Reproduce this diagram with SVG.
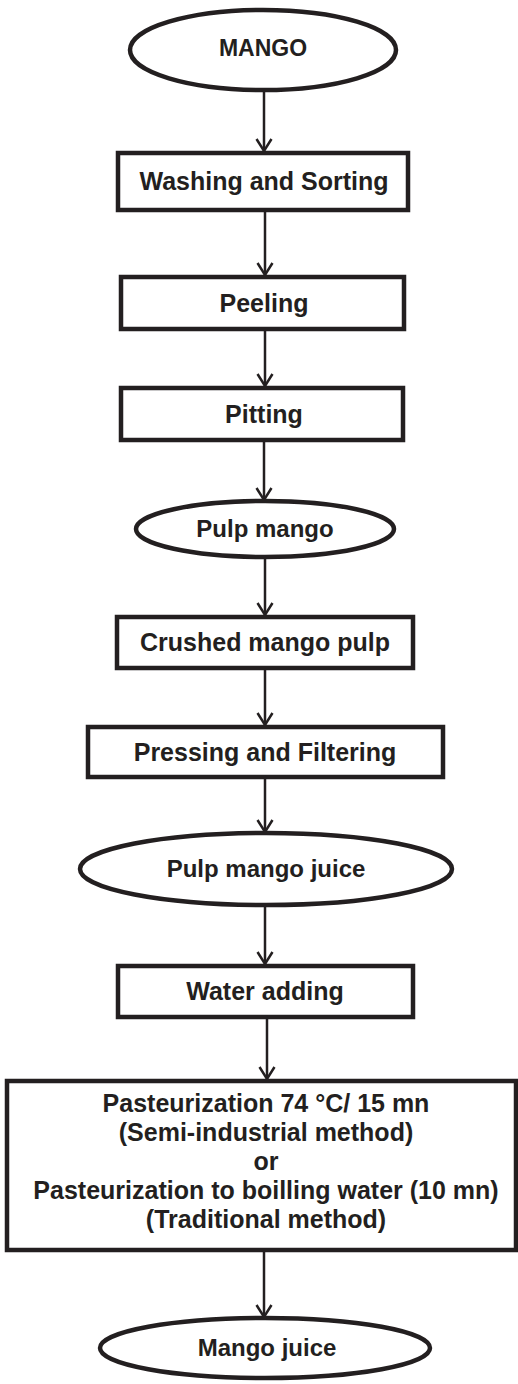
<svg xmlns="http://www.w3.org/2000/svg" width="518" height="1384" viewBox="0 0 518 1384">
<style>
.shape{fill:#fff;stroke:#231f20;stroke-width:4.5}
.lbl{font-family:"Liberation Sans",Arial,sans-serif;font-weight:bold;fill:#231f20;text-anchor:middle}
.conn{stroke:#231f20;stroke-width:2.5;fill:none}
</style>
<defs>
<marker id="arr" markerUnits="userSpaceOnUse" markerWidth="16" markerHeight="18" viewBox="0 0 16 18" refX="13" refY="9" orient="auto">
<path d="M1,1.5 L13,9 L1,16.5" fill="none" stroke="#231f20" stroke-width="2.5"/>
</marker>
</defs>
<rect width="518" height="1384" fill="#fff"/>
<g id="connectors">
<line class="conn" x1="264" y1="92" x2="264" y2="151" marker-end="url(#arr)"/>
<line class="conn" x1="265" y1="211" x2="265" y2="275" marker-end="url(#arr)"/>
<line class="conn" x1="265" y1="330" x2="265" y2="386" marker-end="url(#arr)"/>
<line class="conn" x1="264" y1="441" x2="264" y2="500" marker-end="url(#arr)"/>
<line class="conn" x1="265" y1="559" x2="265" y2="615" marker-end="url(#arr)"/>
<line class="conn" x1="265" y1="669" x2="265" y2="725" marker-end="url(#arr)"/>
<line class="conn" x1="265" y1="779" x2="265" y2="832" marker-end="url(#arr)"/>
<line class="conn" x1="265" y1="906" x2="265" y2="964" marker-end="url(#arr)"/>
<line class="conn" x1="267" y1="1019" x2="267" y2="1079" marker-end="url(#arr)"/>
<line class="conn" x1="264" y1="1252" x2="264" y2="1317" marker-end="url(#arr)"/>
</g>
<g id="n-mango">
<ellipse class="shape" cx="263" cy="50" rx="133" ry="40"/>
<text class="lbl" x="263" y="56" font-size="23">MANGO</text>
</g>
<g id="n-washing">
<rect class="shape" x="118" y="153" width="290" height="57"/>
<text class="lbl" x="264" y="190" font-size="25">Washing and Sorting</text>
</g>
<g id="n-peeling">
<rect class="shape" x="121" y="277" width="283" height="52"/>
<text class="lbl" x="264" y="312" font-size="25">Peeling</text>
</g>
<g id="n-pitting">
<rect class="shape" x="121" y="388" width="282" height="52"/>
<text class="lbl" x="264" y="423" font-size="25">Pitting</text>
</g>
<g id="n-pulp">
<ellipse class="shape" cx="265" cy="529" rx="129" ry="28"/>
<text class="lbl" x="265" y="537" font-size="24">Pulp mango</text>
</g>
<g id="n-crushed">
<rect class="shape" x="117" y="617" width="296" height="51"/>
<text class="lbl" x="265" y="651" font-size="25">Crushed mango pulp</text>
</g>
<g id="n-pressing">
<rect class="shape" x="88" y="727" width="355" height="50"/>
<text class="lbl" x="265" y="761" font-size="25">Pressing and Filtering</text>
</g>
<g id="n-pulpjuice">
<ellipse class="shape" cx="266" cy="869" rx="186" ry="36"/>
<text class="lbl" x="266" y="877" font-size="24">Pulp mango juice</text>
</g>
<g id="n-water">
<rect class="shape" x="118" y="966" width="295" height="51"/>
<text class="lbl" x="265" y="1000" font-size="25">Water adding</text>
</g>
<g id="n-pasteurization">
<rect class="shape" x="7" y="1081" width="509" height="169"/>
<text class="lbl" x="266" y="1112" font-size="25">Pasteurization 74 °C/ 15 mn</text>
<text class="lbl" x="266" y="1141" font-size="25">(Semi-industrial method)</text>
<text class="lbl" x="266" y="1170" font-size="25">or</text>
<text class="lbl" x="266" y="1199" font-size="25">Pasteurization to boilling water (10 mn)</text>
<text class="lbl" x="266" y="1228" font-size="25">(Traditional method)</text>
</g>
<g id="n-juice">
<ellipse class="shape" cx="265" cy="1348" rx="165" ry="30"/>
<text class="lbl" x="267" y="1356" font-size="24">Mango juice</text>
</g>
</svg>
